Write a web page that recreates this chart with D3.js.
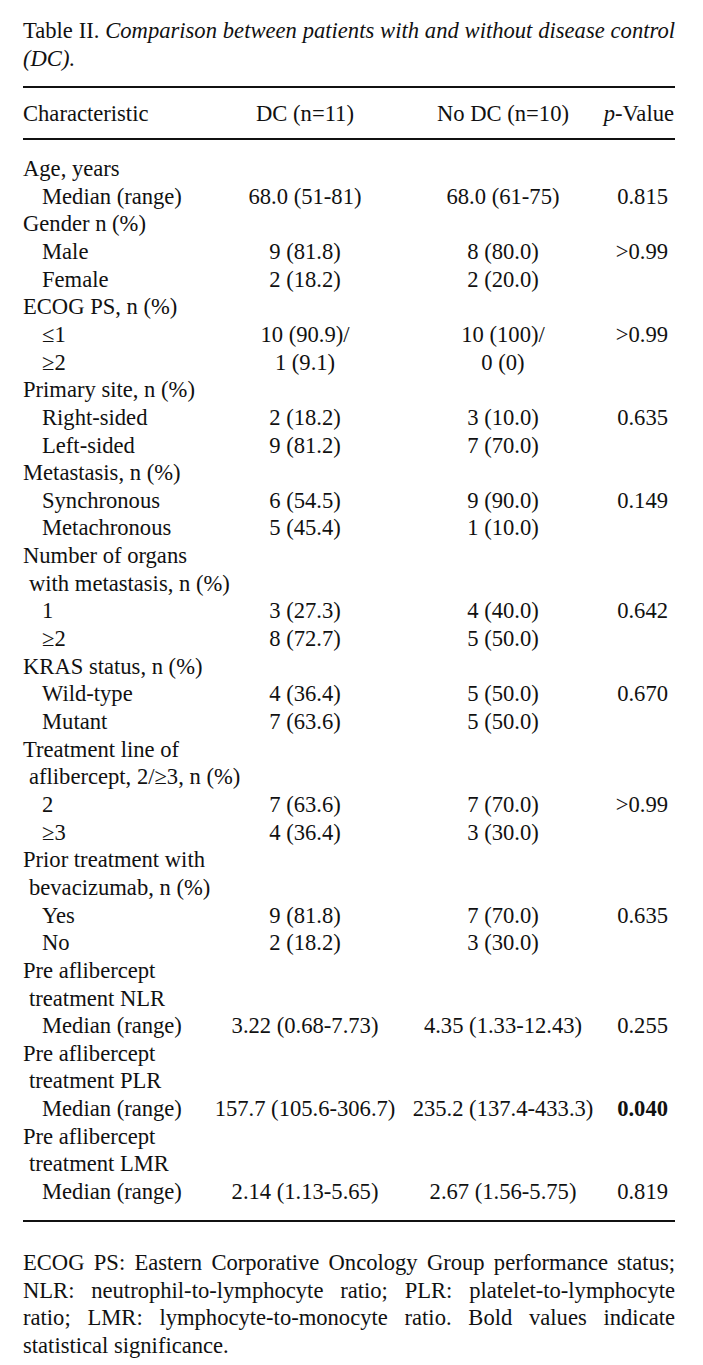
<!DOCTYPE html>
<html>
<head>
<meta charset="utf-8">
<script src="https://cdn.jsdelivr.net/npm/d3@7"></script>
<style>
  html, body { margin: 0; padding: 0; background: #fff; }
  svg { display: block; }
  text { font-family: "Liberation Serif", "Times New Roman", serif; fill: #111; }
</style>
</head>
<body>
<svg id="chart" width="703" height="1365"></svg>
<script>
// table content
var columns = ['Characteristic', 'DC (n=11)', 'No DC (n=10)', 'p-Value'];

// row kinds: head = section title, cont = continued section title, item = indented value row
var rowKinds = [
  'head', 'item', 'head', 'item', 'item', 'head', 'item', 'item',
  'head', 'item', 'item', 'head', 'item', 'item', 'head', 'cont',
  'item', 'item', 'head', 'item', 'item', 'head', 'cont', 'item',
  'item', 'head', 'cont', 'item', 'item', 'head', 'cont', 'item',
  'head', 'cont', 'item', 'head', 'cont', 'item'
];
var rowLabels = [
  'Age, years', 'Median (range)', 'Gender n (%)', 'Male', 'Female',
  'ECOG PS, n (%)', '\u22641', '\u22652',
  'Primary site, n (%)', 'Right-sided', 'Left-sided',
  'Metastasis, n (%)', 'Synchronous', 'Metachronous',
  'Number of organs', 'with metastasis, n (%)', '1', '\u22652',
  'KRAS status, n (%)', 'Wild-type', 'Mutant',
  'Treatment line of', 'aflibercept, 2/\u22653, n (%)', '2', '\u22653',
  'Prior treatment with', 'bevacizumab, n (%)', 'Yes', 'No',
  'Pre aflibercept', 'treatment NLR', 'Median (range)',
  'Pre aflibercept', 'treatment PLR', 'Median (range)',
  'Pre aflibercept', 'treatment LMR', 'Median (range)'
];
var dcValues = [
  '', '68.0 (51-81)', '', '9 (81.8)', '2 (18.2)',
  '', '10 (90.9)/', '1 (9.1)',
  '', '2 (18.2)', '9 (81.2)',
  '', '6 (54.5)', '5 (45.4)',
  '', '', '3 (27.3)', '8 (72.7)',
  '', '4 (36.4)', '7 (63.6)',
  '', '', '7 (63.6)', '4 (36.4)',
  '', '', '9 (81.8)', '2 (18.2)',
  '', '', '3.22 (0.68-7.73)',
  '', '', '157.7 (105.6-306.7)',
  '', '', '2.14 (1.13-5.65)'
];
var noDcValues = [
  '', '68.0 (61-75)', '', '8 (80.0)', '2 (20.0)',
  '', '10 (100)/', '0 (0)',
  '', '3 (10.0)', '7 (70.0)',
  '', '9 (90.0)', '1 (10.0)',
  '', '', '4 (40.0)', '5 (50.0)',
  '', '5 (50.0)', '5 (50.0)',
  '', '', '7 (70.0)', '3 (30.0)',
  '', '', '7 (70.0)', '3 (30.0)',
  '', '', '4.35 (1.33-12.43)',
  '', '', '235.2 (137.4-433.3)',
  '', '', '2.67 (1.56-5.75)'
];
var pValues = [
  '', '0.815', '', '>0.99', '',
  '', '>0.99', '',
  '', '0.635', '',
  '', '0.149', '',
  '', '', '0.642', '',
  '', '0.670', '',
  '', '', '>0.99', '',
  '', '', '0.635', '',
  '', '', '0.255',
  '', '', '0.040',
  '', '', '0.819'
];
var significant = ['0.040'];

var titleLines = [
  [{t: 'Table II.', italic: false}, {t: 'Comparison between patients with and without disease control', italic: true}],
  [{t: '(DC).', italic: true}]
];
var footnote = [
  'ECOG PS: Eastern Corporative Oncology Group performance status;',
  'NLR: neutrophil-to-lymphocyte ratio; PLR: platelet-to-lymphocyte',
  'ratio; LMR: lymphocyte-to-monocyte ratio. Bold values indicate',
  'statistical significance.'
];

var W = 703, left = 23, right = 675;
var fontSize = 22.6, lineH = 27.65;
var svg = d3.select('#chart');
svg.append('rect').attr('width', W).attr('height', 1365).attr('fill', '#fff');

// lays words out across [x0, x1] with stretched spacing (justified)
function justifyLine(g, words, y, x0, x1, justify) {
  var nodes = words.map(function(w) {
    return g.append('text').attr('y', y).attr('font-size', fontSize)
      .attr('font-style', w.italic ? 'italic' : null).text(w.t);
  });
  var widths = nodes.map(function(n) { return n.node().getComputedTextLength(); });
  var total = d3.sum(widths);
  var gap = justify && nodes.length > 1 ? (x1 - x0 - total) / (nodes.length - 1) : 5.6;
  var x = x0;
  nodes.forEach(function(n, i) {
    n.attr('x', x);
    x += widths[i] + gap;
  });
}

function splitWords(parts) {
  var out = [];
  parts.forEach(function(p) {
    p.t.split(' ').forEach(function(t) { out.push({t: t, italic: p.italic}); });
  });
  return out;
}

// title
var title = svg.append('g');
titleLines.forEach(function(line, i) {
  justifyLine(title, splitWords(line), 38 + i * 28, left, right, i === 0);
});

// rules
var rules = [87, 139, 1221];
svg.selectAll('line.rule').data(rules).enter().append('line')
  .attr('class', 'rule')
  .attr('x1', left).attr('x2', right)
  .attr('y1', function(d) { return d; }).attr('y2', function(d) { return d; })
  .attr('stroke', '#111').attr('stroke-width', 1.8);

// column positions
var colX = d3.scaleOrdinal().domain(columns).range([left, 305, 503, 668]);
var colAnchor = d3.scaleOrdinal().domain(columns).range(['start', 'middle', 'middle', 'end']);

// header
var header = svg.append('g').attr('class', 'header');
header.selectAll('text').data(columns).enter().append('text')
  .attr('x', function(d, i) { return i === 3 ? 674 : colX(d); })
  .attr('y', 121)
  .attr('font-size', fontSize)
  .attr('text-anchor', function(d) { return colAnchor(d); })
  .each(function(d) {
    var t = d3.select(this);
    if (d === 'p-Value') {
      t.append('tspan').attr('font-style', 'italic').text('p');
      t.append('tspan').text('-Value');
    } else {
      t.text(d);
    }
  });

// body rows
var y = d3.scaleLinear().domain([0, rowLabels.length - 1]).range([176, 176 + (rowLabels.length - 1) * lineH]);
var indent = {head: 0, cont: 6, item: 19};
var rows = svg.append('g').attr('class', 'rows').selectAll('g')
  .data(rowLabels.map(function(l, i) {
    return {label: l, kind: rowKinds[i], dc: dcValues[i], nodc: noDcValues[i], p: pValues[i], i: i};
  }))
  .enter().append('g')
  .attr('transform', function(d) { return 'translate(0,' + y(d.i) + ')'; });

rows.append('text').attr('x', function(d) { return left + indent[d.kind]; })
  .attr('font-size', fontSize).text(function(d) { return d.label; });
rows.append('text').attr('x', colX(columns[1])).attr('text-anchor', 'middle')
  .attr('font-size', fontSize).text(function(d) { return d.dc; });
rows.append('text').attr('x', colX(columns[2])).attr('text-anchor', 'middle')
  .attr('font-size', fontSize).text(function(d) { return d.nodc; });
rows.append('text').attr('x', colX(columns[3])).attr('text-anchor', 'end')
  .attr('font-size', fontSize)
  .attr('font-weight', function(d) { return significant.indexOf(d.p) >= 0 ? 'bold' : null; })
  .text(function(d) { return d.p; });

// footnote
var foot = svg.append('g');
footnote.forEach(function(line, i) {
  var words = line.split(' ').map(function(t) { return {t: t, italic: false}; });
  justifyLine(foot, words, 1270 + i * 27.7, left, right, i < footnote.length - 1);
});
</script>
</body>
</html>
